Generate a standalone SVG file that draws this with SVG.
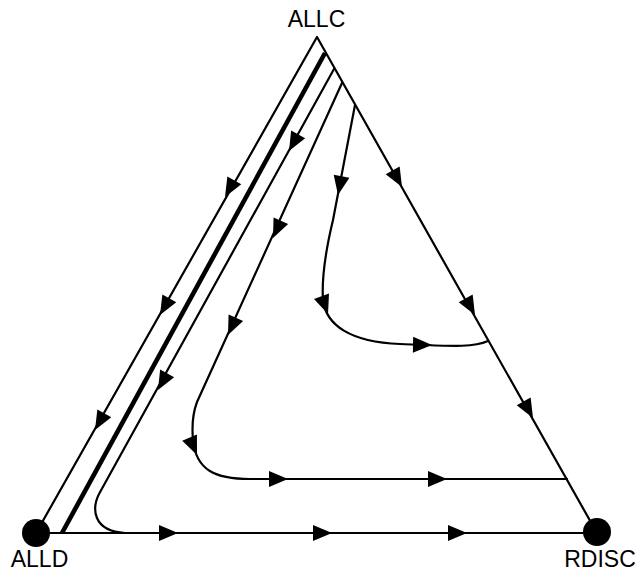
<svg xmlns="http://www.w3.org/2000/svg" xmlns:xlink="http://www.w3.org/1999/xlink" width="635" height="571" viewBox="0 0 635 571">
<style>
.ln{fill:none;stroke:#000;stroke-width:2.2;stroke-linecap:round;stroke-linejoin:round}
.thick{fill:none;stroke:#000;stroke-width:4.6;stroke-linecap:butt}
.lbl{font-family:"Liberation Sans",Arial,sans-serif;font-size:23px;fill:#000;text-anchor:middle}
.nd{fill:#000}
</style>
<defs>
<path id="ah" d="M0,0 L-19,-8 L-19,8 Z" fill="#000"/>
</defs>
<rect width="635" height="571" fill="#fff"/>
<g id="connectors">
<path class="ln" d="M36,533 L317,37 L597,533 Z"/>
<path class="thick" d="M325,53 L62,533"/>
<path class="ln" d="M334,69 L99,494 C92,508 92,531 125,533"/>
<path class="ln" d="M342,83 L197,402 Q191,418 193,440 C196,470 215,479 250,479 L567,479"/>
<path class="ln" d="M355,105 L333,220 Q321,270 323,300 C326,325 350,342 400,344 C440,345 470,349 488,341"/>
<!-- left edge arrows -->
<use xlink:href="#ah" transform="translate(225,197) rotate(119.4)"/>
<use xlink:href="#ah" transform="translate(160,315) rotate(119.4)"/>
<use xlink:href="#ah" transform="translate(95,430) rotate(119.4)"/>
<!-- right edge arrows -->
<use xlink:href="#ah" transform="translate(402,187) rotate(60.6)"/>
<use xlink:href="#ah" transform="translate(475,315) rotate(60.6)"/>
<use xlink:href="#ah" transform="translate(533,418) rotate(60.6)"/>
<!-- bottom edge arrows -->
<use xlink:href="#ah" transform="translate(178,533)"/>
<use xlink:href="#ah" transform="translate(332,533)"/>
<use xlink:href="#ah" transform="translate(467,533)"/>
<!-- trajectory 1 -->
<use xlink:href="#ah" transform="translate(289,151) rotate(118.8)"/>
<use xlink:href="#ah" transform="translate(158,390) rotate(118.8)"/>
<!-- trajectory 2 -->
<use xlink:href="#ah" transform="translate(273,238) rotate(114.4)"/>
<use xlink:href="#ah" transform="translate(228,335) rotate(114.4)"/>
<use xlink:href="#ah" transform="translate(197,455) rotate(67)"/>
<use xlink:href="#ah" transform="translate(288,479)"/>
<use xlink:href="#ah" transform="translate(447,479)"/>
<!-- trajectory 3 -->
<use xlink:href="#ah" transform="translate(338,195) rotate(100.8)"/>
<use xlink:href="#ah" transform="translate(328,314) rotate(70)"/>
<use xlink:href="#ah" transform="translate(432,345) rotate(1)"/>
</g>
<g id="node-allc">
<text class="lbl" x="316.5" y="27">ALLC</text>
</g>
<g id="node-alld">
<circle class="nd" cx="36" cy="533" r="14"/>
<text class="lbl" x="39.5" y="567">ALLD</text>
</g>
<g id="node-rdisc">
<circle class="nd" cx="597" cy="532" r="14"/>
<text class="lbl" x="600" y="567">RDISC</text>
</g>
</svg>
